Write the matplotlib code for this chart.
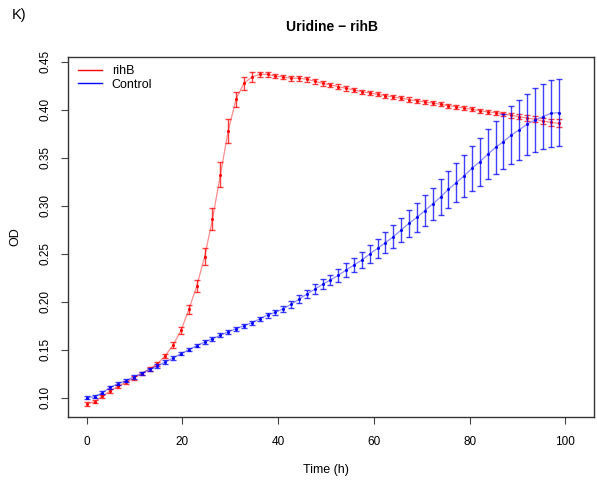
import numpy as np
import matplotlib.pyplot as plt

plt.rcParams['font.family'] = ['Liberation Sans', 'DejaVu Sans']

# measurement interval ~1.64 h, 61 reads
time_h = np.arange(61) * 1.643

rihb_od = [0.0934, 0.0958, 0.1015, 0.107, 0.1119, 0.116, 0.1205, 0.125, 0.130, 0.1354,
           0.1438, 0.155, 0.170, 0.192, 0.2163, 0.2469, 0.286, 0.332, 0.378, 0.411,
           0.4275, 0.434, 0.4368, 0.4368, 0.435, 0.434, 0.4327, 0.4327, 0.4317, 0.4296,
           0.4275, 0.4257, 0.424, 0.4222, 0.4205, 0.4188, 0.4174, 0.416, 0.4146, 0.4132,
           0.412, 0.4105, 0.4092, 0.408, 0.407, 0.4056, 0.4042, 0.4031, 0.4017, 0.4004,
           0.399, 0.3976, 0.3969, 0.3956, 0.3942, 0.3927, 0.3912, 0.390, 0.3882, 0.3869,
           0.3858]
rihb_err = [0.0018, 0.0018, 0.0018, 0.0018, 0.0018, 0.0018, 0.0018, 0.0018, 0.002, 0.002,
            0.0022, 0.003, 0.004, 0.005, 0.0066, 0.0085, 0.0115, 0.013, 0.0127, 0.0078,
            0.007, 0.005, 0.0028, 0.0028, 0.0025, 0.0025, 0.0025, 0.0025, 0.0025, 0.0025,
            0.0025, 0.0025, 0.0025, 0.0025, 0.0025, 0.0022, 0.0022, 0.0022, 0.0022, 0.0022,
            0.0022, 0.0022, 0.0022, 0.0022, 0.0022, 0.0022, 0.0022, 0.0022, 0.0022, 0.0022,
            0.0022, 0.0022, 0.0022, 0.0025, 0.0025, 0.0028, 0.003, 0.003, 0.0035, 0.0038,
            0.004]

control_od = [0.100, 0.101, 0.1052, 0.1108, 0.1146, 0.1177, 0.1216, 0.1254, 0.1296, 0.133,
              0.1372, 0.1414, 0.1458, 0.150, 0.1542, 0.158, 0.1615, 0.165, 0.1686, 0.1718,
              0.175, 0.1781, 0.182, 0.1861, 0.1889, 0.1927, 0.1973, 0.2025, 0.208, 0.2129,
              0.2181, 0.2226, 0.2275, 0.233, 0.2382, 0.2434, 0.2497, 0.2556, 0.2615, 0.2677,
              0.2747, 0.2817, 0.2879, 0.2948, 0.3018, 0.309, 0.317, 0.324, 0.331, 0.339,
              0.3458, 0.3535, 0.3608, 0.3667, 0.3736, 0.3789, 0.3848, 0.3893, 0.3927, 0.3962,
              0.3969]
control_err = [0.0018, 0.0018, 0.0018, 0.0018, 0.0018, 0.0018, 0.0018, 0.0018, 0.0018, 0.0018,
               0.0018, 0.0018, 0.0018, 0.0018, 0.0018, 0.0018, 0.002, 0.002, 0.002, 0.002,
               0.0022, 0.0022, 0.0024, 0.0026, 0.0028, 0.003, 0.0035, 0.004, 0.0045, 0.005,
               0.0052, 0.0057, 0.0066, 0.0073, 0.0078, 0.0085, 0.009, 0.0099, 0.0111, 0.0122,
               0.0127, 0.0139, 0.0153, 0.0158, 0.017, 0.0184, 0.0196, 0.0205, 0.0219, 0.0234,
               0.025, 0.026, 0.0276, 0.0286, 0.030, 0.031, 0.032, 0.033, 0.034, 0.0347,
               0.035]

x_ticks = [0, 20, 40, 60, 80, 100]
y_ticks = [0.10, 0.15, 0.20, 0.25, 0.30, 0.35, 0.40, 0.45]

fig = plt.figure(figsize=(5.97, 4.87), dpi=100)
ax = fig.add_axes([0.1131, 0.1444, 0.8819, 0.7392])

for od, err, col, lab in [(rihb_od, rihb_err, 'red', 'rihB'),
                          (control_od, control_err, 'blue', 'Control')]:
    ax.plot(time_h, od, color=col, lw=0.9, alpha=0.45)
    ax.errorbar(time_h, od, yerr=err, fmt='none', ecolor=col, elinewidth=1.0,
                capsize=1.9, capthick=1.0, alpha=0.75)
    ax.plot(time_h, od, 'o', color=col, ms=2.2, mew=0)
    ax.plot([], [], color=col, lw=1, label=lab)

ax.set_xlim(-4.0, 106.0)
ax.set_ylim(0.0802, 0.4552)
ax.set_xticks(x_ticks)
ax.set_xticklabels([str(t) for t in x_ticks])
ax.set_yticks(y_ticks)
ax.set_yticklabels(['%.2f' % v for v in y_ticks], rotation=90, va='center')

ax.tick_params(axis='x', direction='out', length=5.2, width=0.8, color='#444444',
               labelsize=8.5, pad=8.4)
ax.tick_params(axis='y', direction='out', length=5.2, width=0.8, color='#444444',
               labelsize=8.5, pad=6.5)
for sp in ax.spines.values():
    sp.set_color('#333333')
    sp.set_linewidth(1.0)

ax.legend(loc='upper left', bbox_to_anchor=(0.02, 0.976), frameon=False, fontsize=9,
          handlelength=1.9, handletextpad=0.8, labelspacing=0.12,
          borderpad=0, borderaxespad=0)

fig.text(331.5 / 597, 1 - 27 / 487, 'Uridine \u2212 rihB', ha='center', va='center',
         fontsize=10, fontweight='bold')
fig.text(12 / 597, 1 - 15 / 487, 'K)', ha='left', va='center', fontsize=10.5)
fig.text(325.5 / 597, 1 - 470 / 487, 'Time (h)', ha='center', va='center', fontsize=9)
fig.text(15 / 597, 1 - 237 / 487, 'OD', ha='center', va='center', fontsize=9, rotation=90)

plt.savefig('out.png', dpi=100)
